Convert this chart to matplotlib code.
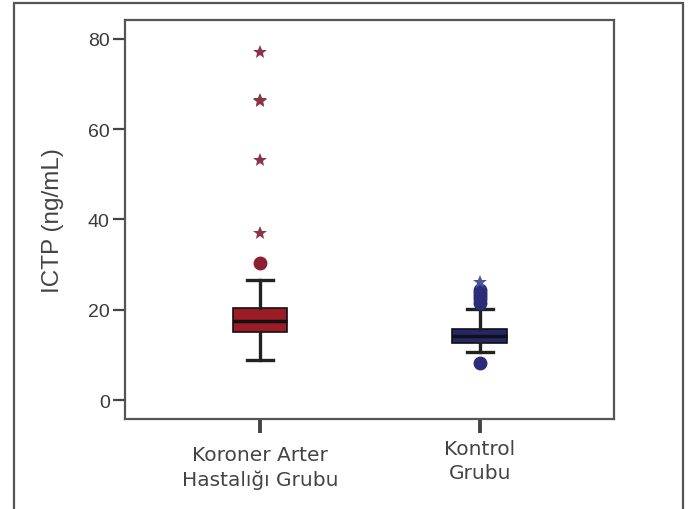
import matplotlib
matplotlib.use("Agg")
import matplotlib.pyplot as plt
import matplotlib.transforms as mtransforms
from matplotlib.patches import Rectangle

# group labels and box statistics (ng/mL)
groups = ["Koroner Arter\nHastalığı Grubu", "Kontrol\nGrubu"]
q1 = [15.0, 12.6]
median = [17.6, 14.1]
q3 = [20.3, 15.7]
whislo = [8.9, 10.7]
whishi = [26.7, 20.2]

# outliers: circles (mild) and stars (extreme)
circles_kah = [30.4]
stars_kah = [37.0, 53.2, 66.2, 66.4, 77.1]
circles_ctrl = [8.2, 21.4, 22.3, 23.1, 23.8, 24.4]
stars_ctrl = [26.2]

yticks = [0, 20, 40, 60, 80]

box_colors = ["#9c1c26", "#26266a"]
out_colors = ["#8e1f30", "#2c2c78"]
star_colors = ["#8a3448", "#5050a0"]

fig = plt.figure(figsize=(6.88, 5.10), dpi=100)
ax = fig.add_axes([0.1817, 0.1765, 0.8924 - 0.1817, 0.9588 - 0.1765])

# grey frame around the whole figure (open at the bottom)
fig.add_artist(Rectangle((14 / 688, -0.05), (683 - 14) / 688, 1.05 - 4 / 510,
                         transform=fig.transFigure, fill=False,
                         edgecolor="#555555", linewidth=1.6))

stats = []
for i in range(len(groups)):
    stats.append(dict(med=median[i], q1=q1[i], q3=q3[i],
                      whislo=whislo[i], whishi=whishi[i], fliers=[]))

bp = ax.bxp(stats, positions=[1, 2], widths=0.25, patch_artist=True,
            showfliers=False,
            boxprops=dict(edgecolor="#111111", linewidth=1.2),
            medianprops=dict(color="#111111", linewidth=2.5),
            whiskerprops=dict(color="#222222", linewidth=2.4),
            capprops=dict(color="#222222", linewidth=2.4),
            capwidths=0.12)
for patch, c in zip(bp["boxes"], box_colors):
    patch.set_facecolor(c)

ax.plot([1] * len(circles_kah), circles_kah, "o", color=out_colors[0],
        markersize=9, markeredgecolor=out_colors[0])
ax.plot([1] * len(stars_kah), stars_kah, "*", color=star_colors[0],
        markersize=10, markeredgewidth=0)
ax.plot([2] * len(circles_ctrl), circles_ctrl, "o", color=out_colors[1],
        markersize=9, markeredgecolor=out_colors[1])
ax.plot([2] * len(stars_ctrl), stars_ctrl, "*", color=star_colors[1],
        markersize=10, markeredgewidth=0)

ax.set_xlim(0.386, 2.61)
ax.set_ylim(-4.2, 84.2)
ax.set_yticks(yticks)
ax.set_xticks([1, 2])
ax.set_xticklabels(groups, fontsize=14.5, color="#444444", linespacing=1.3,
                   family="DejaVu Sans")
ax.tick_params(axis="y", length=9, width=1.6, color="#444444",
               labelsize=14, labelcolor="#3a3a3a", pad=2)
ax.tick_params(axis="x", length=10, width=2.8, color="#444444", pad=9)
for lab in ax.get_yticklabels():
    lab.set_family("Liberation Sans")
# the control label sits a little higher in the original
shift = mtransforms.ScaledTranslation(0, 6 / 100, fig.dpi_scale_trans)
xl = ax.get_xticklabels()[1]
xl.set_transform(xl.get_transform() + shift)

ax.set_ylabel("ICTP (ng/mL)", fontsize=17.5, color="#444444",
              family="Liberation Sans")
ax.yaxis.set_label_coords(-0.125, 0.5)

for sp in ax.spines.values():
    sp.set_color("#555555")
    sp.set_linewidth(1.6)

fig.savefig("out.png", dpi=100)
